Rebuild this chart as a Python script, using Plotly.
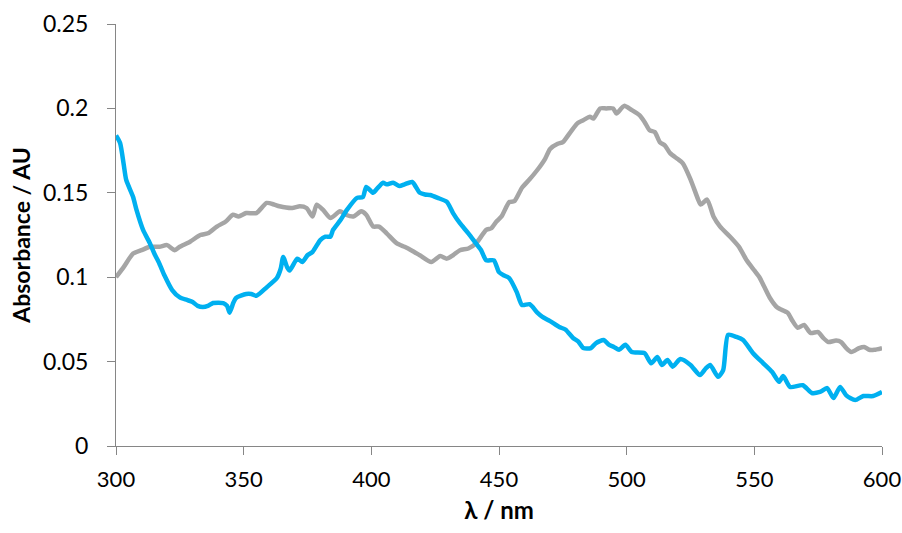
import plotly.graph_objects as go

gray_x = [300, 303, 306.7, 310, 313.3, 317, 320, 323, 325, 329, 333, 336, 339.5, 343, 345.8, 348, 351, 355,
          359, 362, 364, 369, 372, 374.6, 377, 378.6, 381, 384, 387.7, 390, 393, 396, 398, 400.7, 403, 406,
          410, 413, 415.6, 419, 423.5, 427, 429.6, 432, 434.7, 438, 441, 445, 447, 449, 451, 454, 456, 459,
          462, 465, 468, 470, 473, 475, 478, 480.6, 483, 485.6, 487, 489.6, 492, 494.7, 496, 499, 502, 505,
          507, 509, 511, 513, 515, 517, 520, 522, 525, 528, 529, 531.5, 534, 536.6, 540.5, 544, 547, 550,
          552, 554, 556, 559, 563, 565, 567, 569.5, 572, 575, 577, 579, 582, 584, 586, 588, 591, 593, 595,
          597, 600]
gray_y = [0.100, 0.106, 0.114, 0.116, 0.118, 0.118, 0.119, 0.116, 0.118, 0.121, 0.125, 0.126, 0.130, 0.133,
          0.137, 0.136, 0.138, 0.138, 0.144, 0.143, 0.142, 0.141, 0.142, 0.141, 0.136, 0.143, 0.140, 0.135,
          0.139, 0.137, 0.136, 0.139, 0.137, 0.130, 0.130, 0.126, 0.120, 0.118, 0.116, 0.113, 0.109, 0.1125,
          0.111, 0.113, 0.116, 0.117, 0.120, 0.128, 0.129, 0.133, 0.136, 0.1445, 0.145, 0.153, 0.158, 0.1635,
          0.170, 0.176, 0.179, 0.180, 0.186, 0.191, 0.193, 0.195, 0.194, 0.200, 0.200, 0.200, 0.197, 0.2015,
          0.199, 0.196, 0.192, 0.187, 0.186, 0.180, 0.178, 0.1735, 0.170, 0.1675, 0.158, 0.146, 0.143, 0.146,
          0.136, 0.130, 0.124, 0.118, 0.110, 0.104, 0.100, 0.094, 0.088, 0.082, 0.079, 0.074, 0.070, 0.0717,
          0.067, 0.0675, 0.064, 0.0616, 0.0625, 0.0616, 0.058, 0.0557, 0.058, 0.0587, 0.057, 0.057, 0.058]

blue_x = [300, 301.6, 303, 304, 306.7, 308, 310.6, 313.3, 315, 317, 319, 322, 325, 327.8, 330, 332, 334, 336,
          338, 342, 343.5, 344.5, 346, 347, 351, 353, 355, 359, 363, 364.5, 365.5, 367, 368, 371, 373, 375,
          377, 380, 382, 384, 385, 388, 390.5, 394.4, 396.7, 398, 400.7, 402, 404.6, 406, 408.5, 411, 413,
          416, 419, 421, 423, 426, 429.6, 432, 434.7, 438, 441, 443, 445, 448, 450, 452, 454, 457, 459, 462,
          465, 467, 470, 473.6, 476, 479, 481, 483, 486, 488, 491, 493, 495, 497, 499.5, 502, 507, 509.6,
          512, 513.8, 516, 518, 521, 525, 528.7, 531, 532.7, 535.8, 537.8, 539.7, 543, 545.6, 549.5, 553.5,
          557, 559.7, 561.3, 564, 569, 572.5, 575.7, 578.5, 581, 583.6, 586, 589.5, 592.7, 596.5, 600]
blue_y = [0.184, 0.1795, 0.167, 0.1576, 0.1475, 0.140, 0.128, 0.120, 0.114, 0.108, 0.101, 0.0924, 0.088,
          0.0865, 0.0853, 0.083, 0.0823, 0.083, 0.0847, 0.0847, 0.083, 0.079, 0.085, 0.0877, 0.090, 0.090,
          0.089, 0.094, 0.0995, 0.105, 0.112, 0.106, 0.104, 0.111, 0.109, 0.113, 0.115, 0.122, 0.124, 0.124,
          0.128, 0.134, 0.140, 0.147, 0.1475, 0.1535, 0.150, 0.152, 0.156, 0.155, 0.156, 0.154, 0.155, 0.1564,
          0.150, 0.149, 0.1487, 0.147, 0.1446, 0.138, 0.132, 0.126, 0.120, 0.116, 0.110, 0.110, 0.103, 0.101,
          0.0995, 0.091, 0.0835, 0.084, 0.079, 0.0765, 0.074, 0.0705, 0.069, 0.064, 0.062, 0.058, 0.058,
          0.061, 0.0628, 0.060, 0.0587, 0.057, 0.060, 0.0557, 0.055, 0.049, 0.0527, 0.048, 0.051, 0.047,
          0.0515, 0.048, 0.042, 0.046, 0.048, 0.041, 0.045, 0.0658, 0.0646, 0.0628, 0.055, 0.049, 0.0438,
          0.038, 0.0415, 0.035, 0.036, 0.0314, 0.032, 0.0343, 0.0284, 0.035, 0.030, 0.0272, 0.0296, 0.0296,
          0.032]

x_ticks = [300, 350, 400, 450, 500, 550, 600]
y_ticks = [0, 0.05, 0.1, 0.15, 0.2, 0.25]
y_tick_labels = ["0", "0.05", "0.1", "0.15", "0.2", "0.25"]

FONT = "Lato"

fig = go.Figure()
fig.add_trace(go.Scatter(x=gray_x, y=gray_y, mode="lines",
                         line=dict(color="#A5A5A5", width=4.5, shape="spline", smoothing=0.6),
                         showlegend=False))
fig.add_trace(go.Scatter(x=blue_x, y=blue_y, mode="lines",
                         line=dict(color="#00B0F0", width=4.5, shape="spline", smoothing=0.6),
                         showlegend=False))

axis_common = dict(showgrid=False, zeroline=False, showline=True, linecolor="#868686", linewidth=1,
                   ticks="outside", ticklen=8, tickcolor="#868686", tickwidth=1,
                   automargin=False, ticklabeloverflow="allow")

fig.update_layout(
    width=902, height=533, autosize=False,
    margin=dict(l=116, r=20, t=24, b=87),
    paper_bgcolor="white", plot_bgcolor="white",
    xaxis=dict(range=[300, 600], tickvals=x_ticks, ticktext=[str(v) for v in x_ticks],
               tickfont=dict(family=FONT, size=22, color="#000000"),
               ticklabelstandoff=6,
               title=dict(text="<b>λ / nm</b>", font=dict(family=FONT, size=24, color="#000000"), standoff=10),
               **axis_common),
    yaxis=dict(range=[0, 0.25], tickvals=y_ticks, ticktext=y_tick_labels,
               tickfont=dict(family=FONT, size=23, color="#000000"),
               title=dict(text="<b>Absorbance / AU</b>", font=dict(family=FONT, size=23, color="#000000"), standoff=5),
               ticklabelstandoff=14,
               **axis_common),
)

# remove the browser's default page margin so the figure fills the window exactly
fig.write_html("out.html",
               config={"displayModeBar": False},
               post_script="document.body.style.margin='0';document.body.style.overflow='hidden';")
